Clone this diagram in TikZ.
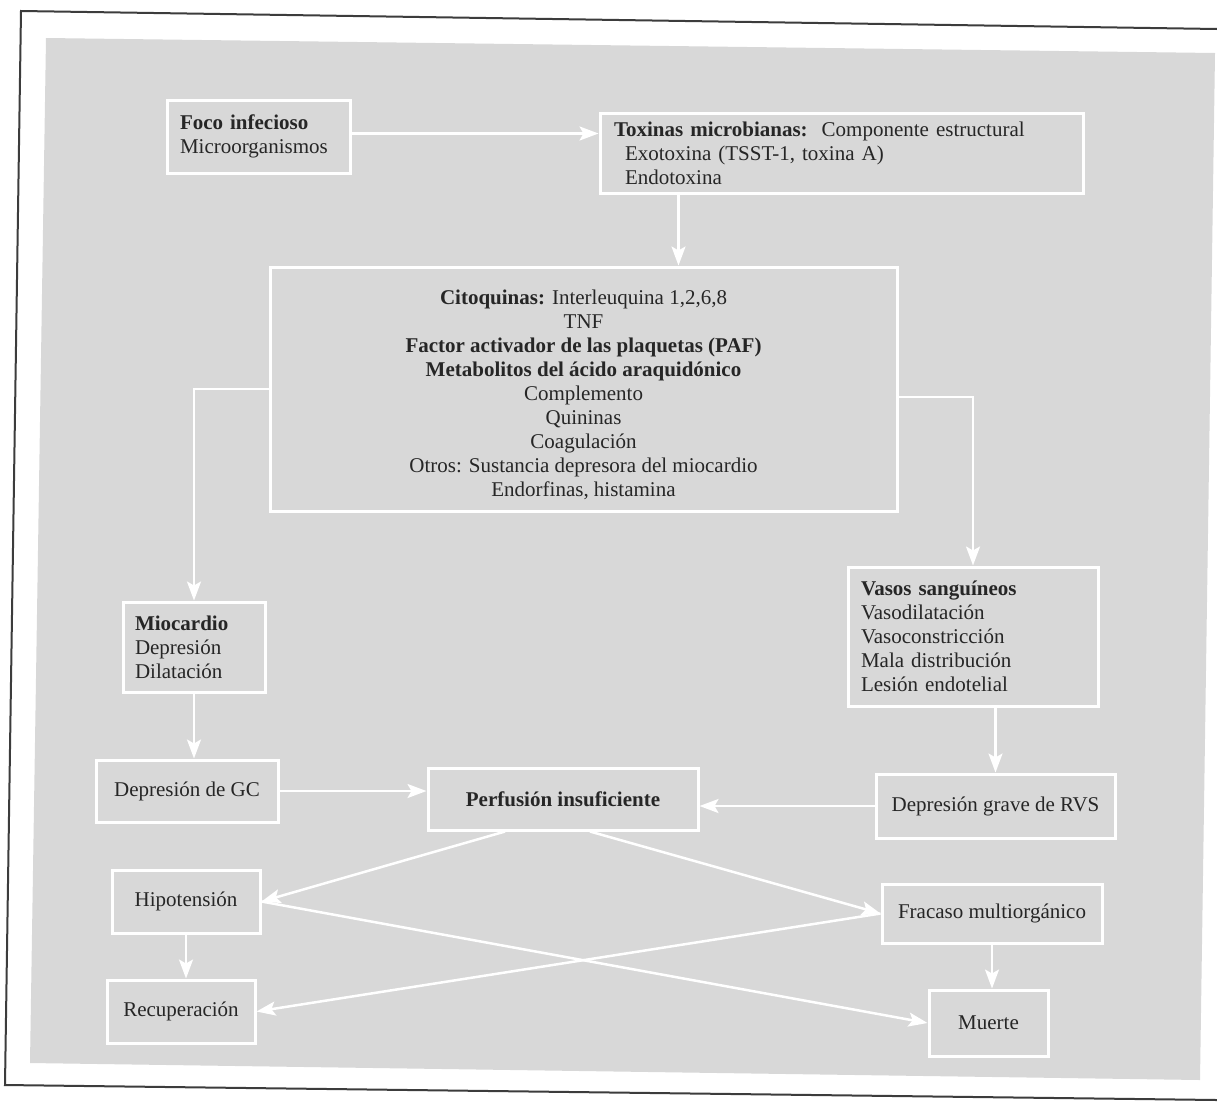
\documentclass[tikz,border=0pt]{standalone}
\usepackage{fontspec}
\setmainfont{Liberation Serif}
\usetikzlibrary{arrows.meta,calc}
\definecolor{bggray}{RGB}{216,216,216}
\definecolor{ink}{RGB}{38,38,38}
\definecolor{framecol}{RGB}{60,60,60}
\begin{document}
\begin{tikzpicture}[x=1pt,y=-1pt,
  box/.style={draw=white, line width=3pt, text=ink, inner ysep=0pt, font=\fontsize{21}{24}\selectfont},
  lbox/.style={box, align=left},
  cbox/.style={box, align=center, inner xsep=0pt},
  arr/.style={draw=white, line width=2.5pt, -{Stealth[length=19pt,width=14pt,inset=4pt]}}
]
\useasboundingbox (0,0) rectangle (1217,1101);
\fill[white] (0,0) rectangle (1217,1101);
% scanned gray panel
\fill[bggray] (46,38) -- (1215,53) -- (1200,1080) -- (30,1063) -- cycle;
% outer frame
\draw[framecol, line width=2pt] (1217,29) -- (21,11) -- (5,1085) -- (1217,1100);

% boxes
\node[lbox, inner xsep=13pt, text width=157pt, minimum height=73pt] (foco) at (258.5,136.5)
  {\textbf{Foco infecioso}\\Microorganismos};
\node[lbox, inner xsep=14pt, text width=455pt, minimum height=80pt] (tox) at (841.5,153)
  {\textbf{Toxinas microbianas:}\ \ Componente estructural\\\hspace*{11pt}Exotoxina (TSST-1, toxina A)\\\hspace*{11pt}Endotoxina};
\node[cbox, minimum width=627pt, minimum height=244pt] (cito) at (583.5,389)
  {\rule{0pt}{27pt}\textbf{Citoquinas:} Interleuquina 1,2,6,8\\TNF\\\textbf{Factor activador de las plaquetas (PAF)}\\\textbf{Metabolitos del ácido araquidónico}\\Complemento\\Quininas\\Coagulación\\Otros: Sustancia depresora del miocardio\\Endorfinas, histamina};
\node[lbox, inner xsep=12pt, text width=118pt, minimum height=90pt] (mio) at (194,647)
  {\textbf{Miocardio}\\Depresión\\Dilatación};
\node[lbox, inner xsep=13pt, text width=224pt, minimum height=139pt] (vasos) at (973,636.5)
  {\textbf{Vasos sanguíneos}\\Vasodilatación\\Vasoconstricción\\Mala distribución\\Lesión endotelial};
\node[cbox, minimum width=182pt, minimum height=62pt] (gc) at (187,791) {Depresión de GC};
\node[cbox, minimum width=270pt, minimum height=62pt] (perf) at (563,799) {\textbf{Perfusión insuficiente}};
\node[cbox, minimum width=239pt, minimum height=64pt] (rvs) at (995.5,806) {Depresión grave de RVS};
\node[cbox, minimum width=148pt, minimum height=63pt] (hipo) at (186,901.5) {Hipotensión};
\node[cbox, minimum width=148pt, minimum height=63pt] (recup) at (181,1011.5) {Recuperación};
\node[cbox, minimum width=220pt, minimum height=59pt] (fracaso) at (992,913.5) {Fracaso multiorgánico};
\node[cbox, minimum width=119pt, minimum height=66pt] (muerte) at (988.5,1023) {Muerte};

% connectors
\draw[arr] ([yshift=3pt]foco.east) -- ([yshift=3pt]foco.east -| tox.west);
\draw[arr] ([xshift=80pt]tox.south west) -- ([xshift=80pt]tox.south west |- cito.north);
\draw[arr] (cito.west) -| (mio.north);
\draw[arr] ([yshift=-8pt]cito.east) -| (vasos.north);
\draw[arr] (mio.south) -- (mio.south |- gc.north);
\draw[arr] (rvs.north |- vasos.south) -- (rvs.north);
\draw[arr] (gc.east) -- (gc.east -| perf.west);
\draw[arr] (rvs.west) -- (rvs.west -| perf.east);
\draw[arr] ([xshift=-58pt]perf.south) -- (hipo.east);
\draw[arr] ([xshift=27pt]perf.south) -- (fracaso.west);
\draw[arr] (hipo.east) -- (muerte.west);
\draw[arr] (fracaso.west) -- (recup.east);
\draw[arr] (hipo.south) -- (hipo.south |- recup.north);
\draw[arr] (fracaso.south) -- (fracaso.south |- muerte.north);
\end{tikzpicture}
\end{document}
